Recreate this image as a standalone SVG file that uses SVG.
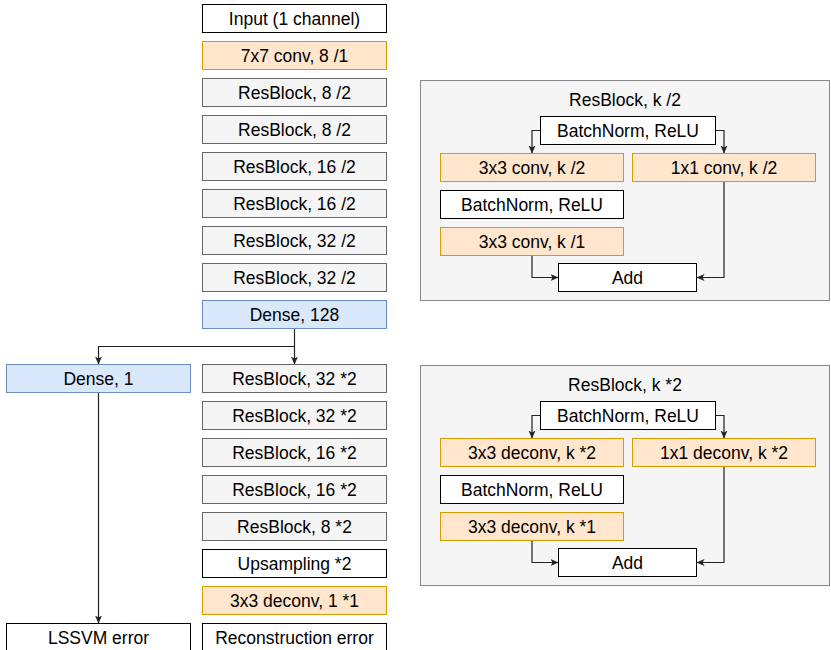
<svg xmlns="http://www.w3.org/2000/svg" width="831" height="650" viewBox="0 0 831 650">
<defs>
<style>
text{font-family:"Liberation Sans",Arial,sans-serif;font-size:17.5px;fill:#000;text-anchor:middle}
.w{fill:#ffffff;stroke:#000000;stroke-width:1}
.g{fill:#f5f5f5;stroke:#666666;stroke-width:1}
.o{fill:#ffe6cc;stroke:#d79b00;stroke-width:1}
.b{fill:#dae8fc;stroke:#6c8ebf;stroke-width:1}
.p{fill:#f5f5f5;stroke:#888888;stroke-width:1}
.c{fill:none;stroke:#222222;stroke-width:1.2;marker-end:url(#ar)}
</style>
<marker id="ar" markerUnits="userSpaceOnUse" markerWidth="9" markerHeight="8" refX="8" refY="3.5" orient="auto">
<path d="M0,0 L8,3.5 L0,7 L2,3.5 z" fill="#222222"/>
</marker>
</defs>
<rect width="831" height="650" fill="#ffffff"/>

<g id="panel1">
<rect class="p" x="420.5" y="80.5" width="409" height="220"/>
<text x="625" y="105.5">ResBlock, k /2</text>
</g>
<g id="panel2">
<rect class="p" x="420.5" y="365.5" width="409" height="220"/>
<text x="625" y="390.5">ResBlock, k *2</text>
</g>

<g id="connectors">
<path class="c" d="M294.5,328.5 V364.5"/>
<path class="c" d="M294.5,346.5 H98.5 V364.5"/>
<path class="c" d="M98.5,392.5 V623.5"/>
<path class="c" d="M540.5,130.5 H532 V153.5"/>
<path class="c" d="M715.5,130.5 H724 V153.5"/>
<path class="c" d="M532,255.5 V277.5 H558.5"/>
<path class="c" d="M724,181.5 V277.5 H696.5"/>
<path class="c" d="M540.5,415.5 H532 V438.5"/>
<path class="c" d="M715.5,415.5 H724 V438.5"/>
<path class="c" d="M532,540.5 V562.5 H558.5"/>
<path class="c" d="M724,466.5 V562.5 H696.5"/>
</g>

<g id="input"><rect class="w" x="202.5" y="4.5" width="184" height="28"/><text x="294.5" y="24.8">Input (1 channel)</text></g>
<g id="conv7"><rect class="o" x="202.5" y="41.5" width="184" height="28"/><text x="294.5" y="61.8">7x7 conv, 8 /1</text></g>
<g id="rb1"><rect class="g" x="202.5" y="78.5" width="184" height="28"/><text x="294.5" y="98.8">ResBlock, 8 /2</text></g>
<g id="rb2"><rect class="g" x="202.5" y="115.5" width="184" height="28"/><text x="294.5" y="135.8">ResBlock, 8 /2</text></g>
<g id="rb3"><rect class="g" x="202.5" y="152.5" width="184" height="28"/><text x="294.5" y="172.8">ResBlock, 16 /2</text></g>
<g id="rb4"><rect class="g" x="202.5" y="189.5" width="184" height="28"/><text x="294.5" y="209.8">ResBlock, 16 /2</text></g>
<g id="rb5"><rect class="g" x="202.5" y="226.5" width="184" height="28"/><text x="294.5" y="246.8">ResBlock, 32 /2</text></g>
<g id="rb6"><rect class="g" x="202.5" y="263.5" width="184" height="28"/><text x="294.5" y="283.8">ResBlock, 32 /2</text></g>
<g id="dense128"><rect class="b" x="202.5" y="300.5" width="184" height="28"/><text x="294.5" y="320.8">Dense, 128</text></g>

<g id="dense1"><rect class="b" x="6.5" y="364.5" width="184" height="28"/><text x="98.5" y="384.8">Dense, 1</text></g>
<g id="lssvm"><rect class="w" x="6.5" y="623.5" width="184" height="28"/><text x="98.5" y="643.8">LSSVM error</text></g>

<g id="ub1"><rect class="g" x="202.5" y="364.5" width="184" height="28"/><text x="294.5" y="384.8">ResBlock, 32 *2</text></g>
<g id="ub2"><rect class="g" x="202.5" y="401.5" width="184" height="28"/><text x="294.5" y="421.8">ResBlock, 32 *2</text></g>
<g id="ub3"><rect class="g" x="202.5" y="438.5" width="184" height="28"/><text x="294.5" y="458.8">ResBlock, 16 *2</text></g>
<g id="ub4"><rect class="g" x="202.5" y="475.5" width="184" height="28"/><text x="294.5" y="495.8">ResBlock, 16 *2</text></g>
<g id="ub5"><rect class="g" x="202.5" y="512.5" width="184" height="28"/><text x="294.5" y="532.8">ResBlock, 8 *2</text></g>
<g id="upsampling"><rect class="w" x="202.5" y="549.5" width="184" height="28"/><text x="294.5" y="569.8">Upsampling *2</text></g>
<g id="deconv3"><rect class="o" x="202.5" y="586.5" width="184" height="28"/><text x="294.5" y="606.8">3x3 deconv, 1 *1</text></g>
<g id="recon"><rect class="w" x="202.5" y="623.5" width="184" height="28"/><text x="294.5" y="643.8">Reconstruction error</text></g>

<g id="p1_bn1"><rect class="w" x="540.5" y="116.5" width="175" height="28"/><text x="628" y="136.8">BatchNorm, ReLU</text></g>
<g id="p1_conv3"><rect class="o" x="440.5" y="153.5" width="183" height="28"/><text x="532" y="173.8">3x3 conv, k /2</text></g>
<g id="p1_conv1"><rect class="o" x="632.5" y="153.5" width="183" height="28"/><text x="724" y="173.8">1x1 conv, k /2</text></g>
<g id="p1_bn2"><rect class="w" x="440.5" y="190.5" width="183" height="28"/><text x="532" y="210.8">BatchNorm, ReLU</text></g>
<g id="p1_conv3b"><rect class="o" x="440.5" y="227.5" width="183" height="28"/><text x="532" y="247.8">3x3 conv, k /1</text></g>
<g id="p1_add"><rect class="w" x="558.5" y="263.5" width="138" height="28"/><text x="627.5" y="283.8">Add</text></g>

<g id="p2_bn1"><rect class="w" x="540.5" y="401.5" width="175" height="28"/><text x="628" y="421.8">BatchNorm, ReLU</text></g>
<g id="p2_deconv3"><rect class="o" x="440.5" y="438.5" width="183" height="28"/><text x="532" y="458.8">3x3 deconv, k *2</text></g>
<g id="p2_deconv1"><rect class="o" x="632.5" y="438.5" width="183" height="28"/><text x="724" y="458.8">1x1 deconv, k *2</text></g>
<g id="p2_bn2"><rect class="w" x="440.5" y="475.5" width="183" height="28"/><text x="532" y="495.8">BatchNorm, ReLU</text></g>
<g id="p2_deconv3b"><rect class="o" x="440.5" y="512.5" width="183" height="28"/><text x="532" y="532.8">3x3 deconv, k *1</text></g>
<g id="p2_add"><rect class="w" x="558.5" y="548.5" width="138" height="28"/><text x="627.5" y="568.8">Add</text></g>
</svg>
